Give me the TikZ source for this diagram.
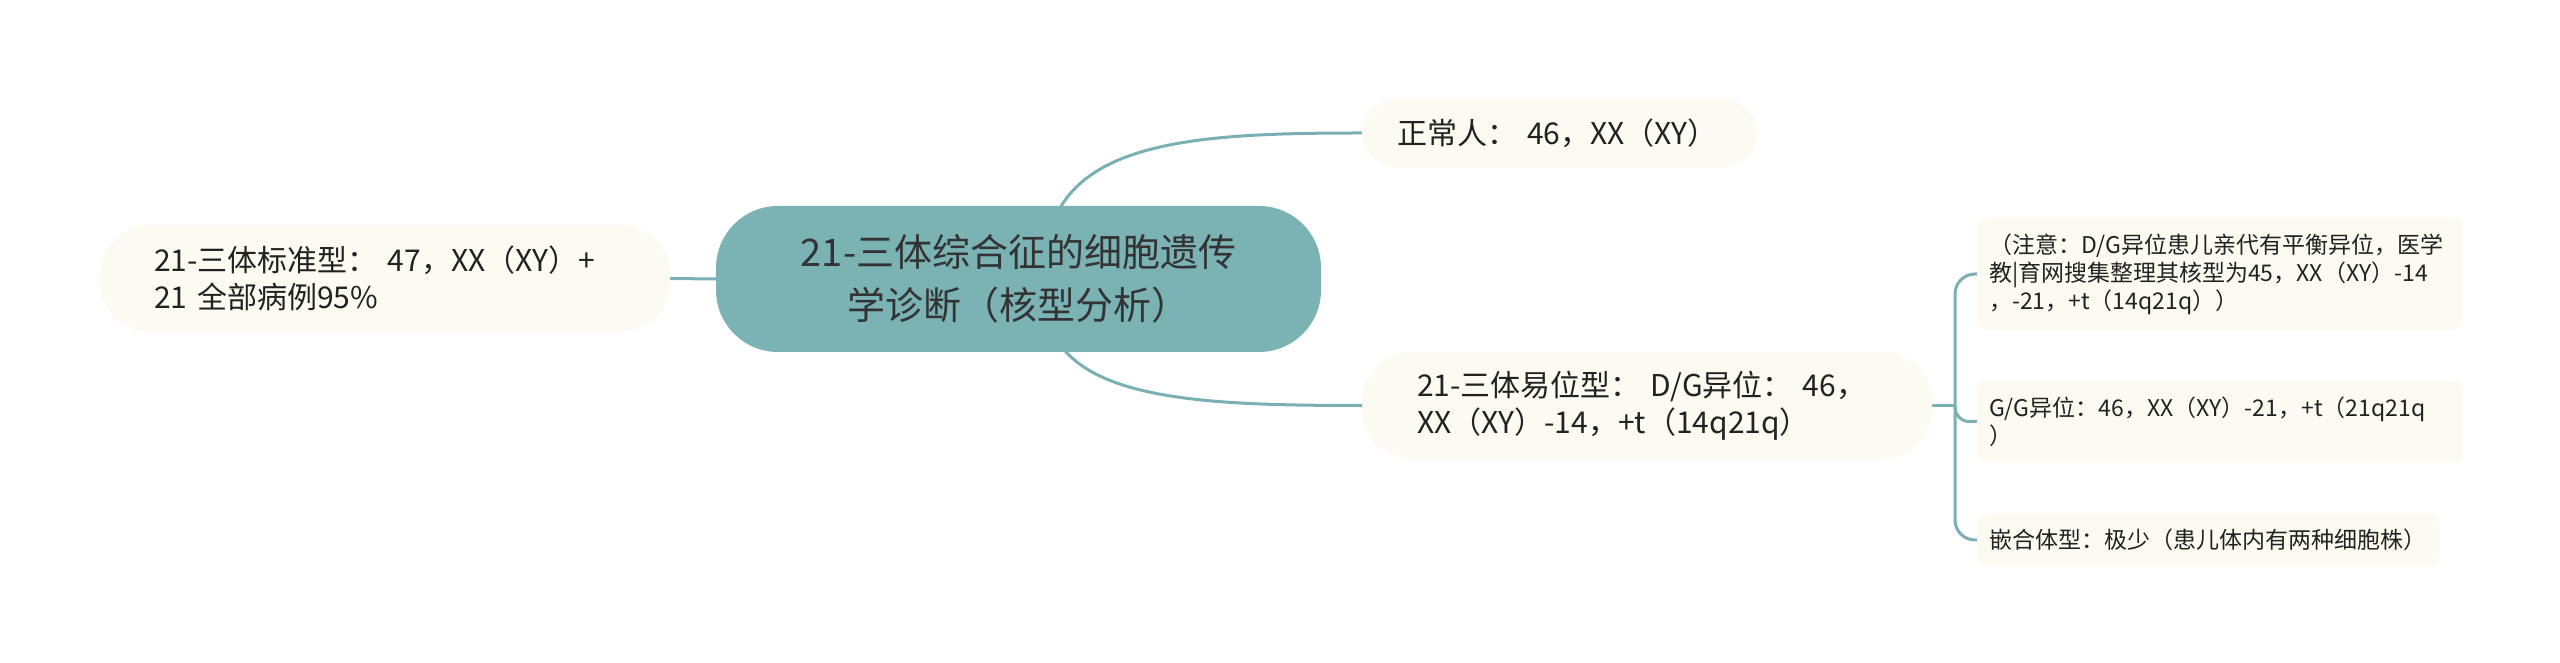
\documentclass[tikz,border=0pt]{standalone}
\usepackage{fontspec}
\setmainfont{Noto Sans CJK SC}
\usetikzlibrary{backgrounds}
\definecolor{mmteal}{HTML}{7BB3B5}
\definecolor{mmline}{HTML}{7AB0B3}
\definecolor{mmcream}{HTML}{FDFBF1}
\definecolor{mmtext}{HTML}{222222}
\definecolor{mmroottext}{HTML}{333333}
\begin{document}
\begin{tikzpicture}[x=1pt,y=1pt,
  rootbox/.style={fill=mmteal, rounded corners=62pt, text=mmroottext, align=center,
    minimum width=605pt, minimum height=146pt, inner sep=0pt,
    font=\fontsize{38}{53}\selectfont},
  leafbox/.style={fill=mmcream, text=mmtext, align=left, inner ysep=0pt,
    font=\fontsize{30}{37}\selectfont},
  smallbox/.style={fill=mmcream, rounded corners=10pt, text=mmtext, align=left,
    inner xsep=12pt, inner ysep=0pt, text width=462pt,
    font=\fontsize{23}{28}\selectfont},
  link/.style={draw=mmline, line width=3pt}
]
\useasboundingbox (0,0) rectangle (2560,663);

\node[rootbox] (root) at (1018.5,384) {21-三体综合征的细胞遗传\\学诊断（核型分析）};

\node[leafbox, rounded corners=50pt, inner xsep=54pt, text width=462pt, minimum height=107pt] (std) at (385,384.5)
  {21-三体标准型： 47，XX（XY）+\\21 全部病例95\%};

\node[leafbox, rounded corners=34pt, inner xsep=35pt, text width=325pt, minimum height=68pt] (normal) at (1559.5,530)
  {正常人： 46，XX（XY）};

\node[leafbox, rounded corners=50pt, inner xsep=55pt, text width=460pt, minimum height=107pt] (trans) at (1647,257.5)
  {21-三体易位型： D/G异位： 46，\\XX（XY）-14，+t（14q21q）};

\node[smallbox, minimum height=112pt] (dg) at (2220,389)
  {（注意：D/G异位患儿亲代有平衡异位，医学\\教|育网搜集整理其核型为45，XX（XY）-14\\，-21，+t（14q21q））};

\node[smallbox, minimum height=81pt] (gg) at (2220,241.5)
  {G/G异位：46，XX（XY）-21，+t（21q21q\\）};

\node[smallbox, text width=439pt, minimum height=52pt] (mosaic) at (2208.5,123)
  {嵌合体型：极少（患儿体内有两种细胞株）};

\begin{pgfonlayer}{background}
\fill[white] (0,0) rectangle (2560,663);
\draw[link] (std.east) -- (root.west);
\draw[link] ([xshift=30pt,yshift=41pt]root.center) .. controls +(22,98) and +(-162,0) .. (normal.west);
\draw[link] ([xshift=30pt,yshift=-41pt]root.center) .. controls +(22,-80) and +(-162,0) .. (trans.west);
\coordinate (J) at (1955,257.5);
\draw[link] (trans.east) -- (J);
\draw[link, rounded corners=20pt] (J) |- (dg.west);
\draw[link, rounded corners=14pt] (J) |- (gg.west);
\draw[link, rounded corners=20pt] (J) |- (mosaic.west);
\end{pgfonlayer}
\end{tikzpicture}
\end{document}
